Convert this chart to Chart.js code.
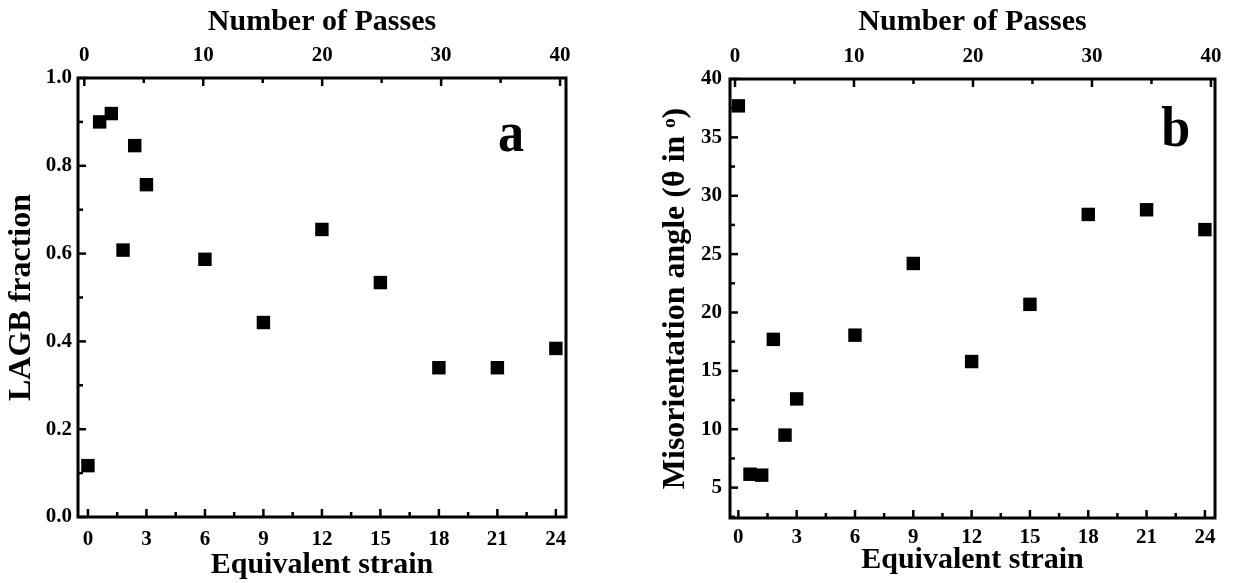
<!DOCTYPE html>
<html>
<head>
<meta charset="utf-8">
<script src="https://cdn.jsdelivr.net/npm/chart.js@4.4.0/dist/chart.umd.min.js"></script>
<style>
  html, body { margin: 0; padding: 0; background: #fff; }
  #wrap { position: relative; width: 1235px; height: 583px; }
  .panel { position: absolute; top: 0; height: 583px; }
  #pa { left: 0; width: 617px; }
  #pb { left: 617px; width: 618px; }
</style>
</head>
<body>
<div id="wrap">
  <div class="panel" id="pa"><canvas id="chartA"></canvas></div>
  <div class="panel" id="pb"><canvas id="chartB"></canvas></div>
</div>
<script>
// Data
const strainA = [0, 0.6, 1.2, 1.8, 2.4, 3, 6, 9, 12, 15, 18, 21, 24];
const lagbFraction = [0.117, 0.900, 0.919, 0.608, 0.846, 0.757, 0.587, 0.443, 0.655, 0.534, 0.340, 0.340, 0.384];

const strainB = [0, 0.6, 1.2, 1.8, 2.4, 3, 6, 9, 12, 15, 18, 21, 24];
const misorientation = [37.7, 6.15, 6.07, 17.7, 9.5, 12.6, 18.06, 24.2, 15.8, 20.7, 28.4, 28.8, 27.1];

// Axis tick settings
const strainStep = 3;
const passesStep = 10;
const fractionStep = 0.2;
const angleStep = 5;

const FONT = '"Liberation Serif", "Times New Roman", serif';

// Frame, inward ticks (major + minor) and panel letter
const framePlugin = {
  id: 'frame',
  afterDraw(chart, args, opts) {
    const ctx = chart.ctx;
    const a = chart.chartArea;
    ctx.save();
    ctx.strokeStyle = '#000';
    ctx.lineWidth = 3;
    ctx.strokeRect(a.left, a.top, a.right - a.left, a.bottom - a.top);
    ctx.lineWidth = 2.5;

    function marks(scale, side) {
      const vals = scale.ticks.map(t => t.value);
      const step = vals[1] - vals[0];
      const all = [];
      vals.forEach(v => all.push([v, 8]));
      for (let v = vals[0] - step / 2; v <= scale.max + 1e-9; v += step) {
        if (v >= scale.min) all.push([v, 5]);
      }
      all.forEach(([v, len]) => {
        const p = scale.getPixelForValue(v);
        ctx.beginPath();
        if (side === 'bottom') { ctx.moveTo(p, a.bottom); ctx.lineTo(p, a.bottom - len); }
        if (side === 'top') { ctx.moveTo(p, a.top); ctx.lineTo(p, a.top + len); }
        if (side === 'left') { ctx.moveTo(a.left, p); ctx.lineTo(a.left + len, p); }
        ctx.stroke();
      });
    }
    marks(chart.scales.x, 'bottom');
    marks(chart.scales.x2, 'top');
    marks(chart.scales.y, 'left');

    // panel letter
    const px = chart.scales.x.getPixelForValue(opts.lx);
    const py = chart.scales.y.getPixelForValue(opts.ly);
    ctx.translate(px, py);
    ctx.scale(0.9, 1);
    ctx.fillStyle = '#000';
    ctx.font = 'bold 58px ' + FONT;
    ctx.textAlign = 'center';
    ctx.textBaseline = 'alphabetic';
    ctx.fillText(opts.letter, 0, 0);
    ctx.restore();
  }
};

function makeChart(id, xs, ys, cfg) {
  const points = xs.map((x, i) => ({ x: x, y: ys[i] }));
  const tickFont = { family: FONT, size: 21, weight: 'bold' };
  const titleFont = { family: FONT, size: 30, weight: 'bold' };
  const yTitleFont = { family: FONT, size: 32, weight: 'bold' };
  return new Chart(document.getElementById(id), {
    type: 'scatter',
    data: {
      datasets: [{
        data: points,
        pointStyle: 'rect',
        pointRadius: 9.5,
        pointHoverRadius: 9.5,
        backgroundColor: '#000',
        borderWidth: 0
      }]
    },
    options: {
      responsive: true,
      maintainAspectRatio: false,
      animation: false,
      layout: { padding: { right: cfg.padRight, left: 0, top: 0, bottom: 0 } },
      plugins: {
        legend: { display: false },
        tooltip: { enabled: false },
        frame: { letter: cfg.letter, lx: cfg.lx, ly: cfg.ly }
      },
      scales: {
        x: {
          type: 'linear', position: 'bottom',
          min: cfg.xMin, max: cfg.xMax,
          grid: { display: false, drawTicks: false },
          border: { display: false },
          ticks: { stepSize: strainStep, includeBounds: false, padding: cfg.xPad, color: '#000', font: tickFont },
          title: { display: true, text: 'Equivalent strain', color: '#000', font: titleFont, padding: { top: 0, bottom: cfg.xTitlePad } },
          afterFit: s => { s.height = cfg.bottomH; }
        },
        x2: {
          type: 'linear', position: 'top',
          min: cfg.pMin, max: cfg.pMax,
          grid: { display: false, drawTicks: false },
          border: { display: false },
          ticks: { stepSize: passesStep, includeBounds: false, padding: 10, color: '#000', font: tickFont },
          title: { display: true, text: 'Number of Passes', color: '#000', font: titleFont, padding: { top: 4, bottom: 0 } },
          afterFit: s => { s.height = cfg.topH; }
        },
        y: {
          type: 'linear', position: 'left',
          min: cfg.yMin, max: cfg.yMax,
          grid: { display: false, drawTicks: false },
          border: { display: false },
          ticks: { stepSize: cfg.yStep, includeBounds: false, padding: cfg.yPad, color: '#000', font: tickFont,
                   callback: cfg.yFmt },
          title: { display: true, text: cfg.yTitle, color: '#000', font: yTitleFont, padding: { top: cfg.yTitlePad, bottom: 0 } },
          afterFit: s => { s.width = cfg.leftW; }
        }
      }
    },
    plugins: [framePlugin]
  });
}

makeChart('chartA', strainA, lagbFraction, {
  xMin: -0.51, xMax: 24.52, pMin: -0.53, pMax: 40.5,
  yMin: 0, yMax: 1.0, yStep: fractionStep, yFmt: v => v.toFixed(1),
  yTitle: 'LAGB fraction', yTitlePad: 3, yPad: 6,
  leftW: 78, padRight: 51, topH: 78, bottomH: 66, xPad: 10, xTitlePad: 0,
  letter: 'a', lx: 21.7, ly: 0.834
});

makeChart('chartB', strainB, misorientation, {
  xMin: -0.43, xMax: 24.52, pMin: -0.42, pMax: 40.34,
  yMin: 2.4, yMax: 40, yStep: angleStep, yFmt: v => String(v),
  yTitle: 'Misorientation angle (\u03B8 in \u1D52)', yTitlePad: 40, yPad: 8,
  leftW: 113, padRight: 20, topH: 79, bottomH: 65, xPad: 7, xTitlePad: 5,
  letter: 'b', lx: 22.5, ly: 34.26
});
</script>
</body>
</html>
